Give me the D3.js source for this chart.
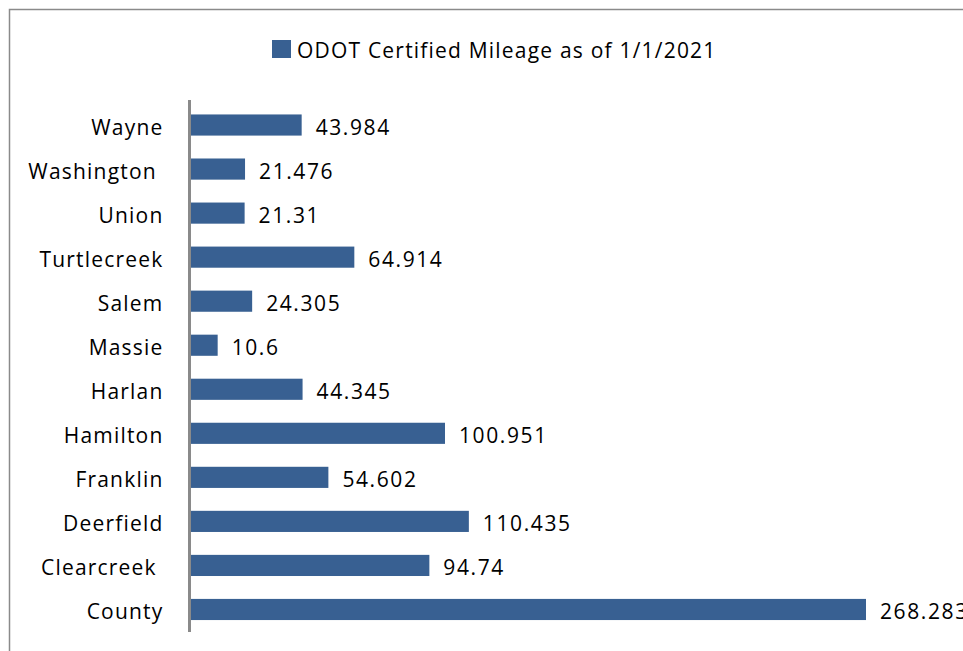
<!DOCTYPE html>
<html>
<head>
<meta charset="utf-8">
<script src="https://cdn.jsdelivr.net/npm/d3@7"></script>
<style>
  body { margin: 0; background: #fff; }
  text { font-family: "Open Sans", sans-serif; fill: #000; white-space: pre; }
</style>
</head>
<body>
<div id="graphContainer"></div>
<script>
// townships, top to bottom
const townships = ["Wayne", "Washington ", "Union", "Turtlecreek", "Salem", "Massie",
  "Harlan", "Hamilton", "Franklin", "Deerfield", "Clearcreek ", "County"];
const mileage = [43.984, 21.476, 21.31, 64.914, 24.305, 10.6,
  44.345, 100.951, 54.602, 110.435, 94.74, 268.283];
const mileageLabels = ["43.984", "21.476", "21.31", "64.914", "24.305", "10.6",
  "44.345", "100.951", "54.602", "110.435", "94.74", "268.283"];
const legendLabel = "ODOT Certified Mileage as of 1/1/2021";

function add() {
  let width = 963;
  let height = 651;
  let svg = d3.select("#graphContainer").append("svg")
    .attr("width", width)
    .attr("height", height);
  return { svg, width, height };
}

function drawChart() {
  let { svg, width, height } = add();
  const barColor = "#386092";

  // outer chart frame (runs off right/bottom edge)
  svg.append("rect")
    .attr("x", 9.5).attr("y", 9.5)
    .attr("width", width + 20).attr("height", height + 20)
    .attr("fill", "none")
    .attr("stroke", "#8a8a8a")
    .attr("stroke-width", 1.5);

  let data = townships.map((t, i) => ({ name: t, value: mileage[i], label: mileageLabels[i] }));

  let y = d3.scaleBand()
    .domain(townships)
    .range([103, 631.5])
    .paddingInner(0.52)
    .paddingOuter(0.26);

  let x = d3.scaleLinear()
    .domain([0, d3.max(mileage)])
    .range([191, 866]);

  svg.selectAll(".bar")
    .data(data)
    .enter().append("rect")
    .attr("class", "bar")
    .attr("x", x(0))
    .attr("y", d => y(d.name))
    .attr("width", d => x(d.value) - x(0))
    .attr("height", y.bandwidth())
    .attr("fill", barColor);

  // category axis line, no ticks
  svg.append("line")
    .attr("x1", 189.5).attr("x2", 189.5)
    .attr("y1", 100).attr("y2", 632)
    .attr("stroke", "#8a8a8a")
    .attr("stroke-width", 3);

  svg.selectAll(".cat")
    .data(data)
    .enter().append("text")
    .attr("class", "cat")
    .attr("x", 163.5)
    .attr("y", d => y(d.name) + y.bandwidth() / 2 + 9.5)
    .attr("text-anchor", "end")
    .style("font-size", "21px")
    .style("letter-spacing", "1.2px")
    .text(d => d.name);

  svg.selectAll(".val")
    .data(data)
    .enter().append("text")
    .attr("class", "val")
    .attr("x", d => x(d.value) + 14)
    .attr("y", d => y(d.name) + y.bandwidth() / 2 + 9.5)
    .style("font-size", "21px")
    .style("letter-spacing", "1.6px")
    .text(d => d.label);

  // legend
  let legend = svg.append("g");
  legend.append("rect")
    .attr("x", 272).attr("y", 40)
    .attr("width", 19).attr("height", 18)
    .attr("fill", barColor);
  legend.append("text")
    .attr("x", 297).attr("y", 58)
    .style("font-size", "21px")
    .style("letter-spacing", "1.2px")
    .text(legendLabel);
}

drawChart();
</script>
</body>
</html>
